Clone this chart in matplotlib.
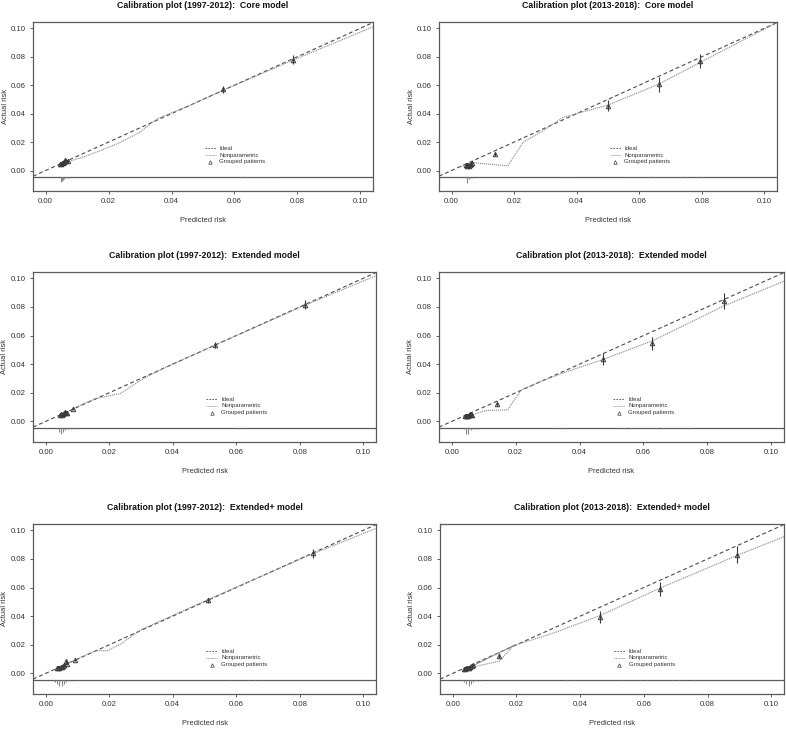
import matplotlib
matplotlib.use("Agg")
import matplotlib.pyplot as plt

plt.rcParams['font.family'] = ['Liberation Sans', 'DejaVu Sans']

### Data

titles = ['Calibration plot (1997-2012):  Core model',
          'Calibration plot (2013-2018):  Core model',
          'Calibration plot (1997-2012):  Extended model',
          'Calibration plot (2013-2018):  Extended model',
          'Calibration plot (1997-2012):  Extended+ model',
          'Calibration plot (2013-2018):  Extended+ model']

ticks = [0.00, 0.02, 0.04, 0.06, 0.08, 0.10]
tick_labels = ['0.00', '0.02', '0.04', '0.06', '0.08', '0.10']
legend_labels = ['Ideal', 'Nonparametric', 'Grouped patients']

# nonparametric calibration curves
np_x1 = [0.005, 0.007, 0.012, 0.018, 0.0235, 0.030, 0.0355, 0.045, 0.057, 0.079, 0.104]
np_y1 = [0.0045, 0.006, 0.0095, 0.0145, 0.0195, 0.027, 0.0365, 0.045, 0.057, 0.078, 0.101]
np_x2 = [0.003, 0.0063, 0.018, 0.0229, 0.030, 0.0357, 0.040, 0.050, 0.066, 0.079, 0.104]
np_y2 = [0.0025, 0.0056, 0.0033, 0.0198, 0.029, 0.0374, 0.040, 0.046, 0.0605, 0.0755, 0.104]
np_x3 = [0.0045, 0.008, 0.012, 0.016, 0.0185, 0.0235, 0.028, 0.032, 0.038, 0.053, 0.082, 0.104]
np_y3 = [0.0045, 0.008, 0.0125, 0.016, 0.0172, 0.0195, 0.026, 0.0315, 0.038, 0.053, 0.0815, 0.1018]
np_x4 = [0.0035, 0.0065, 0.0107, 0.0175, 0.0217, 0.028, 0.035, 0.047, 0.063, 0.085, 0.104]
np_y4 = [0.003, 0.0046, 0.0076, 0.0081, 0.022, 0.028, 0.034, 0.043, 0.0565, 0.0805, 0.098]
np_x5 = [0.003, 0.008, 0.012, 0.016, 0.0195, 0.024, 0.027, 0.030, 0.050, 0.084, 0.104]
np_y5 = [0.003, 0.008, 0.0122, 0.016, 0.0158, 0.021, 0.026, 0.0305, 0.0505, 0.0835, 0.1013]
np_x6 = [0.0035, 0.0065, 0.0146, 0.0192, 0.025, 0.032, 0.0463, 0.065, 0.0893, 0.104]
np_y6 = [0.003, 0.0046, 0.0085, 0.0196, 0.0235, 0.0285, 0.0405, 0.0595, 0.0825, 0.0955]
# second trace visible in the last panel
alt_x6 = [0.0065, 0.0192]
alt_y6 = [0.0055, 0.0196]

# grouped patients (triangles with intervals)
gx1 = [0.0047, 0.0050, 0.0053, 0.0055, 0.0058, 0.0060, 0.0062, 0.0066, 0.0070, 0.0565, 0.0787]
gy1 = [0.0045, 0.0048, 0.0050, 0.0053, 0.0058, 0.0062, 0.0072, 0.0066, 0.0064, 0.0570, 0.0780]
ge1 = [0.0007, 0.0007, 0.0007, 0.0008, 0.0008, 0.0008, 0.0009, 0.0009, 0.0009, 0.0023, 0.0030]
gx2 = [0.0045, 0.0048, 0.0051, 0.0053, 0.0055, 0.0058, 0.0061, 0.0064, 0.0140, 0.0500, 0.0663, 0.0793]
gy2 = [0.0036, 0.0040, 0.0033, 0.0038, 0.0030, 0.0042, 0.0048, 0.0055, 0.0115, 0.0455, 0.0605, 0.0770]
ge2 = [0.0008, 0.0008, 0.0008, 0.0008, 0.0008, 0.0009, 0.0009, 0.0010, 0.0016, 0.0040, 0.0050, 0.0050]
gx3 = [0.0045, 0.0048, 0.0051, 0.0054, 0.0057, 0.0060, 0.0064, 0.0068, 0.0086, 0.0533, 0.0817]
gy3 = [0.0045, 0.0050, 0.0048, 0.0055, 0.0062, 0.0068, 0.0058, 0.0062, 0.0090, 0.0532, 0.0815]
ge3 = [0.0007, 0.0007, 0.0007, 0.0008, 0.0008, 0.0008, 0.0008, 0.0009, 0.0010, 0.0022, 0.0030]
gx4 = [0.0042, 0.0045, 0.0048, 0.0051, 0.0054, 0.0057, 0.0060, 0.0063, 0.0143, 0.0472, 0.0628, 0.0853]
gy4 = [0.0035, 0.0038, 0.0036, 0.0040, 0.0042, 0.0055, 0.0048, 0.0044, 0.0125, 0.0435, 0.0545, 0.0840]
ge4 = [0.0008, 0.0008, 0.0008, 0.0008, 0.0008, 0.0009, 0.0009, 0.0009, 0.0015, 0.0040, 0.0047, 0.0054]
gx5 = [0.0035, 0.0039, 0.0043, 0.0047, 0.0051, 0.0055, 0.0059, 0.0063, 0.0067, 0.0092, 0.0510, 0.0842]
gy5 = [0.0035, 0.0038, 0.0040, 0.0042, 0.0048, 0.0052, 0.0058, 0.0085, 0.0065, 0.0097, 0.0510, 0.0838]
ge5 = [0.0007, 0.0007, 0.0007, 0.0007, 0.0008, 0.0008, 0.0008, 0.0009, 0.0009, 0.0010, 0.0020, 0.0030]
gx6 = [0.0035, 0.0039, 0.0043, 0.0047, 0.0051, 0.0055, 0.0059, 0.0063, 0.0146, 0.0463, 0.0650, 0.0893]
gy6 = [0.0030, 0.0033, 0.0035, 0.0036, 0.0040, 0.0045, 0.0050, 0.0058, 0.0125, 0.0395, 0.0590, 0.0830]
ge6 = [0.0007, 0.0007, 0.0007, 0.0007, 0.0008, 0.0008, 0.0008, 0.0009, 0.0015, 0.0040, 0.0046, 0.0058]

# spike histogram of predicted risk under the baseline
sx1 = [0.0048, 0.0052, 0.0056, 0.0060, 0.0065, 0.0070, 0.0075]
sd1 = [0.0038, 0.0030, 0.0022, 0.0015, 0.0010, 0.0006, 0.0004]
tx1 = [0.062, 0.064, 0.066, 0.068, 0.070, 0.072]
sx2 = [0.0048, 0.0055, 0.0060, 0.0065]
sd2 = [0.0045, 0.0015, 0.0010, 0.0006]
tx2 = [0.037, 0.039, 0.055, 0.058, 0.061, 0.063, 0.065, 0.067, 0.069, 0.071, 0.073, 0.075, 0.078, 0.080]
sx3 = [0.0042, 0.0048, 0.0055, 0.0060, 0.0070, 0.0080, 0.0090, 0.0100]
sd3 = [0.0025, 0.0040, 0.0025, 0.0015, 0.0008, 0.0005, 0.0004, 0.0003]
tx3 = [0.061, 0.062]
sx4 = [0.0038, 0.0045, 0.0052, 0.0060, 0.0068, 0.0075, 0.0085, 0.0095]
sd4 = [0.0008, 0.0040, 0.0042, 0.0015, 0.0008, 0.0005, 0.0004, 0.0003]
tx4 = [0.033, 0.034, 0.035, 0.052, 0.054, 0.056, 0.058, 0.060, 0.062, 0.064, 0.066,
       0.068, 0.070, 0.072, 0.074]
sx5 = [0.0025, 0.0030, 0.0037, 0.0043, 0.0050, 0.0057, 0.0065, 0.0075, 0.0085, 0.0095, 0.0105, 0.0115]
sd5 = [0.0005, 0.0015, 0.0030, 0.0040, 0.0042, 0.0030, 0.0015, 0.0008, 0.0005, 0.0004, 0.0003, 0.0003]
tx5 = [0.058, 0.060, 0.062, 0.064, 0.066, 0.068, 0.070, 0.072, 0.075, 0.078, 0.080]
sx6 = [0.0028, 0.0035, 0.0042, 0.0050, 0.0057, 0.0065, 0.0073, 0.0080, 0.0090, 0.0100]
sd6 = [0.0008, 0.0015, 0.0028, 0.0042, 0.0030, 0.0015, 0.0008, 0.0005, 0.0004, 0.0003]
tx6 = [0.036, 0.038, 0.040, 0.042, 0.045, 0.053, 0.055, 0.057, 0.059, 0.061, 0.063,
       0.065, 0.067, 0.069, 0.071, 0.073, 0.076, 0.078, 0.080]

panels = [
    (np_x1, np_y1, gx1, gy1, ge1, sx1, sd1, tx1),
    (np_x2, np_y2, gx2, gy2, ge2, sx2, sd2, tx2),
    (np_x3, np_y3, gx3, gy3, ge3, sx3, sd3, tx3),
    (np_x4, np_y4, gx4, gy4, ge4, sx4, sd4, tx4),
    (np_x5, np_y5, gx5, gy5, ge5, sx5, sd5, tx5),
    (np_x6, np_y6, gx6, gy6, ge6, sx6, sd6, tx6),
]

### Layout (pixel boxes of each plot region: left, top, right, bottom)
W, H = 786, 731
boxes = [(33, 22, 373, 191), (439, 22, 777, 191),
         (33, 272, 376, 442), (439, 272, 784, 442),
         (33, 524, 376, 694), (440, 524, 784, 694)]

xlim = (-0.004, 0.104)
ylim = (-0.0144, 0.1044)
baseline = -0.0046

dark = '#3a3a3a'
grey = '#8a8a8a'
frame = '#5a5a5a'

fig = plt.figure(figsize=(W / 100, H / 100), dpi=100)

for i, (nx, ny, gx, gy, ge, sx, sd, tx) in enumerate(panels):
    l, t, r, b = boxes[i]
    ax = fig.add_axes([l / W, 1 - b / H, (r - l) / W, (b - t) / H])
    ax.set_xlim(*xlim)
    ax.set_ylim(*ylim)

    # ideal line
    ax.plot(xlim, xlim, color='#4a4a4a', lw=0.8, linestyle=(0, (3.5, 2.5)))
    # nonparametric
    ax.plot(nx, ny, color=grey, lw=0.8, linestyle=(0, (1, 0.8)))
    if i == 5:
        ax.plot(alt_x6, alt_y6, color=grey, lw=0.7)
    # grouped patients
    ax.vlines(gx, [y - e for y, e in zip(gy, ge)], [y + e for y, e in zip(gy, ge)],
              color=dark, lw=0.8)
    ax.plot(gx, gy, linestyle='none', marker='^', markersize=3.2,
            markerfacecolor='none', markeredgecolor=dark, markeredgewidth=0.7)

    # baseline + spike histogram
    ax.axhline(baseline, color=frame, lw=0.9)
    ax.vlines(sx, [baseline - d for d in sd], baseline, color=grey, lw=0.8)
    ax.vlines(tx, baseline - 0.0004, baseline, color='#b0b0b0', lw=0.6)

    # legend drawn in data units like the R original
    lx, ly, dy = 0.0505, 0.0155, 0.0047
    ax.plot([lx, lx + 0.0035], [ly, ly], color='#4a4a4a', lw=0.6, linestyle=(0, (2, 1.5)))
    ax.plot([lx, lx + 0.0035], [ly - dy, ly - dy], color=grey, lw=0.6, linestyle=(0, (1, 0.8)))
    ax.plot([lx + 0.00175], [ly - 2 * dy], linestyle='none', marker='^', markersize=2.5,
            markerfacecolor='none', markeredgecolor=dark, markeredgewidth=0.5)
    for k, lab in enumerate(legend_labels):
        ax.text(lx + 0.0047, ly - k * dy, lab, fontsize=4.3, color='#333333',
                va='center', ha='left')

    ax.set_xticks(ticks)
    ax.set_xticklabels(tick_labels)
    ax.set_yticks(ticks)
    ax.set_yticklabels(tick_labels)
    ax.tick_params(labelsize=5.6, length=2.5, width=0.7, color=frame,
                   labelcolor='#333333', pad=2.5)
    for sp in ax.spines.values():
        sp.set_color(frame)
        sp.set_linewidth(0.9)

    ax.set_title(titles[i], fontsize=6.3, fontweight='bold', color='#111111', pad=10)
    ax.set_xlabel('Predicted risk', fontsize=5.4, color='#333333')
    ax.set_ylabel('Actual risk', fontsize=5.4, color='#333333')
    ax.xaxis.set_label_coords(0.5, -0.155)
    ax.yaxis.set_label_coords(-0.072, 0.5)

fig.savefig('out.png', dpi=100)
